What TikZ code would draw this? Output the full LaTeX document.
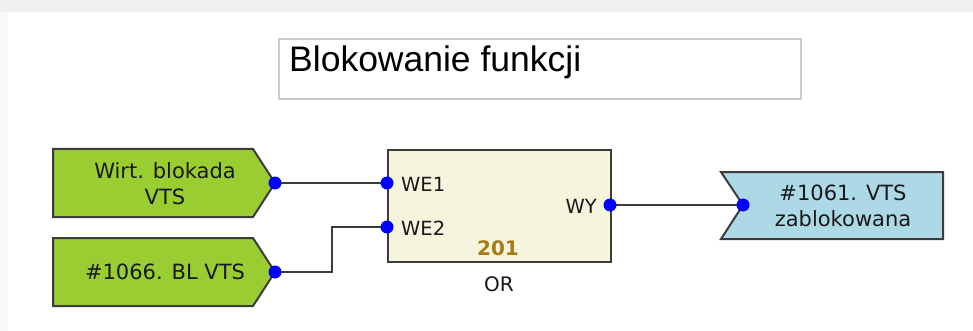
\documentclass[tikz,border=0pt]{standalone}
\usepackage{fontspec}
\setmainfont{DejaVu Sans}
\newfontfamily\titlefont{Liberation Sans}
\definecolor{greenfill}{HTML}{9ACD32}
\definecolor{bluefill}{HTML}{ADD8E6}
\definecolor{orfill}{HTML}{F5F4DC}
\definecolor{edge}{HTML}{3C3C3C}
\definecolor{numcol}{HTML}{A67C1A}
\definecolor{portblue}{HTML}{0000FF}
\begin{document}
\begin{tikzpicture}[x=1pt,y=-1pt,
  boxlbl/.style={font=\fontsize{21}{26}\selectfont, text=black!90, inner sep=0pt, align=center},
  portlbl/.style={font=\fontsize{19.5}{24}\selectfont, text=black!90, inner sep=0pt},
  port/.style={circle, fill=portblue, inner sep=0pt, minimum size=13pt},
  wire/.style={draw=edge, line width=2pt},
  shapebox/.style={draw=edge, line width=2pt, line join=miter}]
\useasboundingbox (0,0) rectangle (973,331);
\fill[white] (0,0) rectangle (973,331);
\fill[gray!12] (0,0) rectangle (973,12);
\fill[gray!5] (0,12) rectangle (8,331);
% title
\node[draw=gray!40, line width=2pt, minimum width=522pt, minimum height=60pt, anchor=north west, inner sep=0pt] (title) at (278,38) {};
\node[anchor=base west, inner sep=0pt, font=\titlefont\fontsize{35.5}{40}\selectfont] (titletext) at (289,72) {Blokowanie funkcji};
% green inputs
\draw[shapebox, fill=greenfill] (53,149) -- (253,149) -- (275,183) -- (253,217) -- (53,217) -- cycle;
\node[boxlbl] (in1) at (165,184) {Wirt. blokada\\VTS};
\draw[shapebox, fill=greenfill] (53,238) -- (253,238) -- (275,272) -- (253,306) -- (53,306) -- cycle;
\node[boxlbl] (in2) at (165,272) {\#1066. BL VTS};
% blue output
\draw[shapebox, fill=bluefill] (721,172) -- (943,172) -- (943,239) -- (721,239) -- (743,205) -- cycle;
\node[boxlbl] (out) at (843,206) {\#1061. VTS\\zablokowana};
% OR block
\node[draw=edge, fill=orfill, line width=2pt, minimum width=223pt, minimum height=112pt, anchor=north west, inner sep=0pt] (orbox) at (387,149) {};
\node[portlbl, anchor=west] (we1l) at (401,184) {WE1};
\node[portlbl, anchor=west] (we2l) at (401,228) {WE2};
\node[portlbl, anchor=east] (wyl) at (597,206) {WY};
\node[inner sep=0pt, font=\bfseries\fontsize{20}{24}\selectfont, text=numcol] (num) at (498,248) {201};
\node[inner sep=0pt, font=\fontsize{20}{24}\selectfont, text=black!90] (gate) at (499,284) {OR};
% wires (drawn between port positions)
\coordinate (c1) at (275,183);
\coordinate (c2) at (275,272);
\coordinate (c3) at (387,183);
\coordinate (c4) at (387,227);
\coordinate (c5) at (610,205);
\coordinate (c6) at (743,205);
\draw[wire] (c1) -- (c3);
\draw[wire] (c2) -- ++(57,0) |- (c4);
\draw[wire] (c5) -- (c6);
% ports on top
\node[port] (p1) at (c1) {};
\node[port] (p2) at (c2) {};
\node[port] (we1) at (c3) {};
\node[port] (we2) at (c4) {};
\node[port] (wy) at (c5) {};
\node[port] (po) at (c6) {};
\end{tikzpicture}
\end{document}
